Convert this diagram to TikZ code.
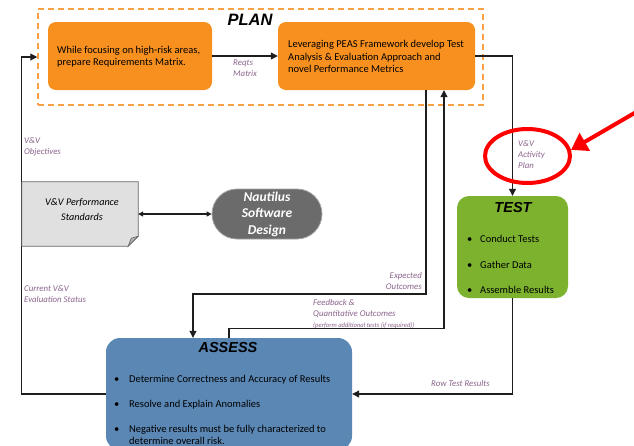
\documentclass[tikz,border=0pt]{standalone}
\usepackage{fontspec}
\setmainfont{Carlito}
\newfontfamily\headfont{Liberation Sans}
\usetikzlibrary{arrows.meta,shapes.misc,shapes.geometric,calc}
\definecolor{plorange}{RGB}{248,144,32}
\definecolor{dashorange}{RGB}{250,160,70}
\definecolor{tgreen}{RGB}{124,178,46}
\definecolor{ablue}{RGB}{91,135,180}
\definecolor{lblcol}{RGB}{140,100,140}
\definecolor{ngray}{RGB}{107,107,107}
\definecolor{docgray}{RGB}{224,224,224}
\definecolor{linecol}{RGB}{30,30,30}
\begin{document}
\begin{tikzpicture}[x=1pt,y=-1pt,
  obox/.style={fill=plorange, draw=none, rounded corners=8pt, inner sep=0},
  btext/.style={text=black, font=\fontsize{10.5}{12.2}\selectfont, align=left, inner sep=0, anchor=west},
  lbl/.style={text=lblcol, font=\fontsize{8.8}{11}\selectfont\itshape, align=left, inner sep=0},
  conn/.style={draw=linecol, line width=1.1pt},
  arr/.style={conn, -{Triangle[length=7pt,width=7pt]}},
  head/.style={font=\headfont\bfseries\itshape\fontsize{14.5}{16}\selectfont, inner sep=0},
  bul/.style={text=black, font=\fontsize{10.5}{13}\selectfont, inner sep=0, anchor=west, align=left}
]
\path[use as bounding box, clip] (0,0) rectangle (634,445);
\fill[white] (0,0) rectangle (634,445);

% PLAN group
\node[draw=dashorange, dash pattern=on 6pt off 4pt, line width=1.5pt, minimum width=445pt, minimum height=96pt, inner sep=0] (planbox) at (260.5,57) {};
\node[head, font=\headfont\bfseries\itshape\fontsize{16.5}{18}\selectfont] (plan) at (250,20) {PLAN};
\node[obox, minimum width=164pt, minimum height=68pt] (p1) at (130,56) {};
\node[btext] (p1t) at (57,56.5) {While focusing on high-risk areas,\\prepare Requirements Matrix.};
\node[obox, minimum width=197pt, minimum height=68pt] (p2) at (376.5,56) {};
\node[btext] (p2t) at (288,56.5) {Leveraging PEAS Framework develop Test\\Analysis \& Evaluation Approach and\\novel Performance Metrics};

% TEST
\node[fill=tgreen, rounded corners=12pt, minimum width=111pt, minimum height=102pt, inner sep=0] (test) at (512.5,247) {};
\node[head] (testt) at (513,208) {TEST};
\node[bul] (tb1) at (467,239) {\makebox[13pt][l]{•}Conduct Tests};
\node[bul] (tb2) at (467,264.5) {\makebox[13pt][l]{•}Gather Data};
\node[bul] (tb3) at (467,290) {\makebox[13pt][l]{•}Assemble Results};

% ASSESS
\node[fill=ablue, rounded corners=14pt, minimum width=246pt, minimum height=112pt, inner sep=0] (assess) at (229,394) {};
\node[head] (assesst) at (228,348) {ASSESS};
\node[bul] (ab1) at (114,380) {\makebox[15pt][l]{•}Determine Correctness and Accuracy of Results};
\node[bul] (ab2) at (114,405) {\makebox[15pt][l]{•}Resolve and Explain Anomalies};
\node[bul, anchor=north west] (ab3) at (114,423.5) {\begin{tabular}{@{}p{15pt}@{}l@{}}•&Negative results must be fully characterized to\\[-1pt]&determine overall risk.\end{tabular}};

% connectors
\draw[arr] (p1.east) -- (p2.west);
\draw[arr] (p2.east) -| (test.north);
\draw[arr] ([xshift=49.5pt]p2.south) |- (193,294) -- ([xshift=-36pt]assess.north);
\draw[arr] (assess.north) -- ++(0,-9) -| ([xshift=67.5pt]p2.south);
\draw[arr] (test.south) |- (assess.east);
\draw[arr] (assess.west) -| ([xshift=-16pt]planbox.west) -- (planbox.west);

% standards document
\node[minimum width=116pt, minimum height=64pt, inner sep=0] (std) at (80,214) {};
\draw[fill=docgray, draw=gray!80!black, line width=0.8pt]
  (std.north west) -- (std.north east) -- ([yshift=10pt]std.south east) -- ([xshift=-10pt]std.south east) -- (std.south west) -- cycle;
\draw[fill=gray!60, draw=gray!80!black, line width=0.6pt]
  ([yshift=10pt]std.south east) -- ([xshift=-7pt,yshift=8pt]std.south east) -- ([xshift=-10pt]std.south east) -- cycle;
\node[font=\fontsize{10.2}{15}\selectfont\itshape, align=center, inner sep=0] (stdt) at (82,209.5) {V\&V Performance\\Standards};

\node[fill=ngray, draw=gray!70, line width=0.8pt, rounded rectangle, minimum width=110pt, minimum height=50pt, inner sep=0, text=white, font=\fontsize{13.5}{16.5}\selectfont\bfseries\itshape, align=center] (naut) at (267,214) {Nautilus\\Software\\Design};
\draw[conn, {Triangle[length=5pt,width=5pt]}-{Triangle[length=5pt,width=5pt]}] (std.east) -- (naut.west);

% labels
\node[lbl, anchor=north west] (l1) at (233,59.5) {Reqts\\Matrix};
\node[lbl, anchor=north west] (l2) at (24,137.5) {V\&V\\Objectives};
\node[lbl, anchor=north west] (l3) at (24,285.5) {Current V\&V\\Evaluation Status};
\node[lbl, anchor=north west] (l4) at (518,140) {V\&V\\Activity\\Plan};
\node[lbl, anchor=north east, align=right] (l5) at (422,272.5) {Expected\\Outcomes};
\node[lbl, anchor=north west] (l6) at (313,299.5) {Feedback \&\\Quantitative Outcomes};
\node[lbl, anchor=north west, font=\fontsize{6.6}{7}\selectfont\itshape] (l7) at (313,322.5) {(perform additional tests (if required))};
\node[lbl, anchor=north west] (l8) at (431,380.5) {Row Test Results};

% red highlight
\node[draw=red, line width=4pt, ellipse, minimum width=85pt, minimum height=54pt, inner sep=0] (hl) at (527.5,156) {};
\coordinate (redstart) at (650,104);
\draw[red, line width=4pt, -{Triangle[length=16pt,width=20pt]}] (redstart) -- (hl.8);
\end{tikzpicture}
\end{document}
